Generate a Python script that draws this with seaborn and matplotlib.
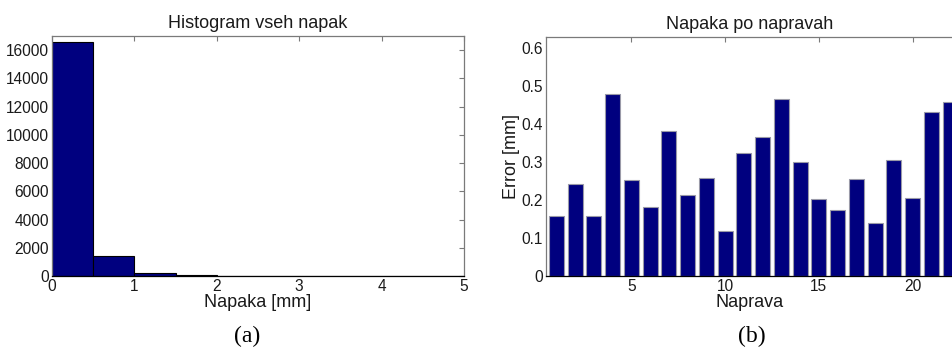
import numpy as np
import pandas as pd
import matplotlib
matplotlib.use("Agg")
import matplotlib.pyplot as plt
import seaborn as sns

# ---- data ----
hist_edges = [0.0, 0.5, 1.0, 1.5, 2.0, 2.5, 3.0, 3.5, 4.0, 4.5, 5.0]
hist_counts = [16550, 1415, 230, 50, 15, 5, 3, 2, 1, 1]

device_ids = list(range(1, 23))
device_errors = [0.158, 0.243, 0.157, 0.478, 0.252, 0.180, 0.380, 0.214,
                 0.258, 0.119, 0.324, 0.366, 0.465, 0.300, 0.202, 0.173,
                 0.255, 0.138, 0.305, 0.206, 0.432, 0.457]

hist_xticks = [0, 1, 2, 3, 4, 5]
hist_yticks = [0, 2000, 4000, 6000, 8000, 10000, 12000, 14000, 16000]
bar_xticks = [5, 10, 15, 20]
bar_yticks = [0, 0.1, 0.2, 0.3, 0.4, 0.5, 0.6]

sns.set_theme(style="white")
plt.rcParams['font.family'] = ['Liberation Sans', 'DejaVu Sans']

NAVY = "#00007F"
TXT = "#1a1a1a"
SPINE = "#7a7a7a"
FS_TICK = 11.2
FS_LAB = 13

W, H = 953, 347
fig = plt.figure(figsize=(W / 100, H / 100), dpi=100)

def box(px_l, px_r, px_t, px_b):
    return [px_l / W, 1 - px_b / H, (px_r - px_l) / W, (px_b - px_t) / H]

ax1 = fig.add_axes(box(52, 464, 36, 276))
ax2 = fig.add_axes(box(546, 953, 37, 276))

# ---- histogram ----
centers = [(hist_edges[i] + hist_edges[i + 1]) / 2 for i in range(len(hist_counts))]
dfh = pd.DataFrame({"x": centers, "w": hist_counts})
sns.histplot(data=dfh, x="x", weights="w", bins=hist_edges, ax=ax1,
             color=NAVY, edgecolor="#000000", linewidth=0.8, alpha=1)
ax1.set_xlim(0, 5)
ax1.set_ylim(0, 17000)
ax1.set_xticks(hist_xticks)
ax1.set_yticks(hist_yticks)
ax1.set_title("Histogram vseh napak", fontsize=FS_LAB, color=TXT, pad=6)
ax1.set_xlabel("Napaka [mm]", fontsize=FS_LAB, color=TXT, labelpad=0.5)
ax1.set_ylabel("")

# ---- bar chart ----
dfb = pd.DataFrame({"n": device_ids, "e": device_errors})
sns.barplot(data=dfb, x="n", y="e", native_scale=True, width=0.8, ax=ax2,
            color=NAVY, saturation=1, edgecolor="#9a9aa8", linewidth=0.8)
ax2.set_xlim(0.45, 22.15)
ax2.set_ylim(0, 0.628)
ax2.set_xticks(bar_xticks)
ax2.set_yticks(bar_yticks)
ax2.set_yticklabels(["0", "0.1", "0.2", "0.3", "0.4", "0.5", "0.6"])
ax2.set_title("Napaka po napravah", fontsize=FS_LAB, color=TXT, pad=6)
ax2.set_xlabel("Naprava", fontsize=FS_LAB, color=TXT, labelpad=0.5)
ax2.set_ylabel("Error [mm]", fontsize=FS_LAB, color=TXT, labelpad=1)

for ax in (ax1, ax2):
    ax.tick_params(axis="both", which="both", direction="in", length=3.5,
                   width=0.8, colors=SPINE, labelcolor=TXT, labelsize=FS_TICK,
                   top=True, right=True, pad=2)
    for s in ax.spines.values():
        s.set_color(SPINE)
        s.set_linewidth(0.9)
    ax.spines["bottom"].set_color("#000000")

ax2.spines["right"].set_visible(False)
ax2.tick_params(axis="y", right=False)

fig.text(247 / W, 1 - 336 / H, "(a)", ha="center", va="center",
         fontsize=17, family=["Liberation Serif"], color="#000000")
fig.text(752 / W, 1 - 336 / H, "(b)", ha="center", va="center",
         fontsize=17, family=["Liberation Serif"], color="#000000")

fig.savefig("out.png", dpi=100)
